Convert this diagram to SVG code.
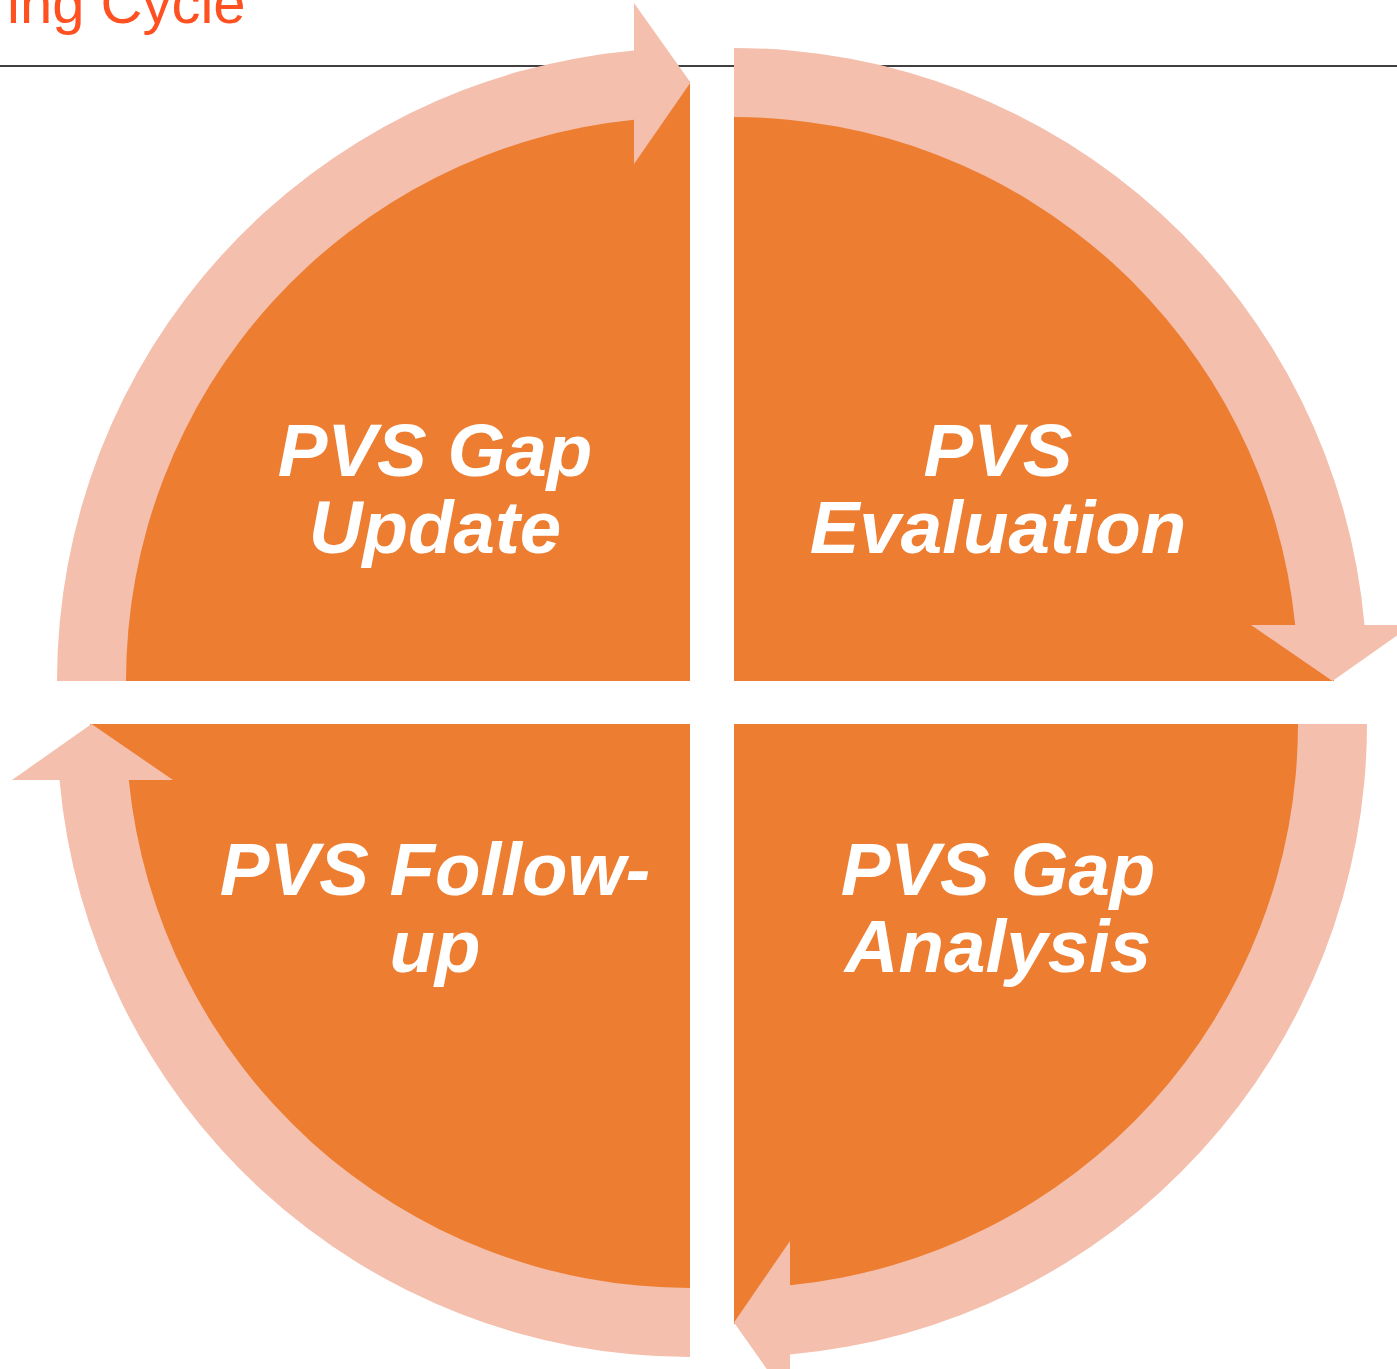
<svg xmlns="http://www.w3.org/2000/svg" width="1397" height="1369" viewBox="0 0 1397 1369">
<style>
.q{fill:#ED7D31}
.r{fill:#F4BFAD}
.t{font-family:"Liberation Sans",Arial,sans-serif;font-weight:bold;font-style:italic;font-size:74.5px;fill:#FFFFFF;text-anchor:middle}
.title{font-family:"Liberation Sans",Arial,sans-serif;font-size:58px;fill:#FF5021}
</style>
<rect width="1397" height="1369" fill="#FFFFFF"/>
<text class="title" x="7" y="23">ing Cycle</text>
<line x1="0" y1="66" x2="1397" y2="66" stroke="#000000" stroke-width="1.5"/>
<g id="node-update">
<path class="q" d="M690,681 L90,681 A600,600 0 0 1 690,81 Z"/>
<text class="t" x="435" y="476">PVS Gap</text>
<text class="t" x="435" y="553">Update</text>
</g>
<g id="node-evaluation">
<path class="q" d="M734,681 L734,81 A600,600 0 0 1 1334,681 Z"/>
<text class="t" x="998" y="476">PVS</text>
<text class="t" x="998" y="553">Evaluation</text>
</g>
<g id="node-analysis">
<path class="q" d="M734,724 L1334,724 A600,600 0 0 1 734,1324 Z"/>
<text class="t" x="998" y="895">PVS Gap</text>
<text class="t" x="998" y="972">Analysis</text>
</g>
<g id="node-followup">
<path class="q" d="M690,724 L690,1324 A600,600 0 0 1 90,724 Z"/>
<text class="t" x="435" y="895">PVS Follow-</text>
<text class="t" x="435" y="972">up</text>
</g>
<g id="connectors">
<path class="r" d="M57,681 A633,633 0 0 1 634,50.5 L634,3 L690.5,82.5 L634,164 L634,119.8 A564,564 0 0 0 126,681 Z"/>
<path class="r" d="M734,48 A633,633 0 0 1 1364.5,625 L1412,625 L1332.5,681 L1251,625 L1295.2,625 A564,564 0 0 0 734,117 Z"/>
<path class="r" d="M1367,724 A633,633 0 0 1 790,1354.5 L790,1402 L734,1322.5 L790,1241 L790,1285.2 A564,564 0 0 0 1298,724 Z"/>
<path class="r" d="M690,1357 A633,633 0 0 1 59.5,780 L12,780 L91.5,724 L173,780 L128.8,780 A564,564 0 0 0 690,1288 Z"/>
</g>
</svg>
